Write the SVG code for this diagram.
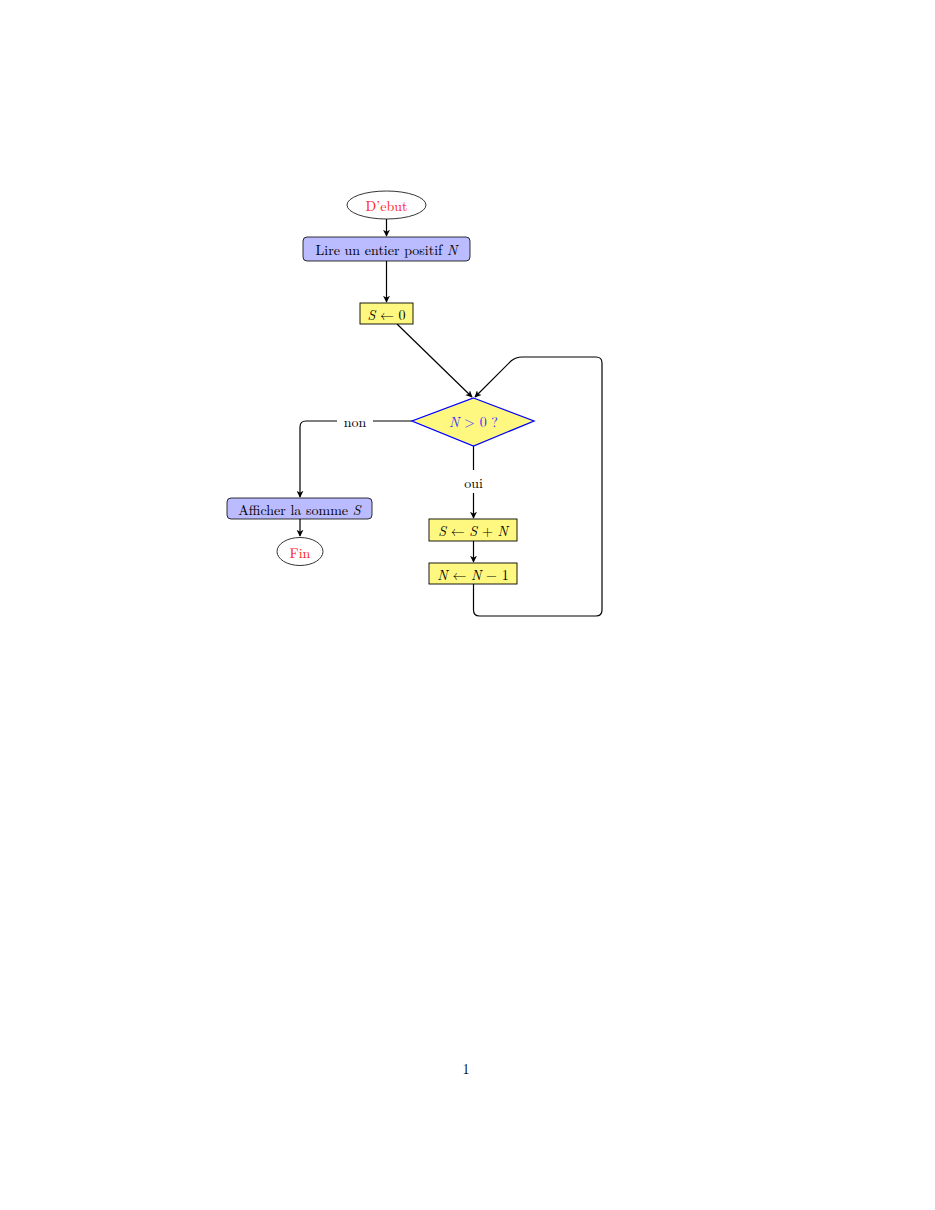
<svg xmlns="http://www.w3.org/2000/svg" width="935" height="1210" viewBox="0 0 935 1210">
<style>
text{font-family:"Latin Modern Roman","Liberation Serif",serif;font-size:14px;text-anchor:middle;dominant-baseline:central}
.m{font-style:italic}
.e{fill:#fff;stroke:#000;stroke-width:0.8}
.b{fill:#bbbbff;stroke:#000;stroke-width:0.8}
.y{fill:#fff880;stroke:#000;stroke-width:0.9}
.c{fill:none;stroke:#000;stroke-width:1.2}
.red{fill:#ff2020}
</style>
<defs><marker id="a" viewBox="0 0 10 10" refX="9" refY="5" markerWidth="7" markerHeight="7" orient="auto" markerUnits="userSpaceOnUse"><path d="M0,0 L10,5 L0,10 L3,5 z" fill="#000"/></marker></defs>
<rect width="935" height="1210" fill="#fff"/>
<g id="edges">
<path class="c" d="M386.5,219 V236" marker-end="url(#a)"/>
<path class="c" d="M386.5,261 V302" marker-end="url(#a)"/>
<path class="c" d="M397,324 L472,397" marker-end="url(#a)"/>
<path class="c" d="M412,421 H373 M337,421 H306 Q300,421 300,427 V497" marker-end="url(#a)"/>
<path class="c" d="M300,519 V536" marker-end="url(#a)"/>
<path class="c" d="M473.5,446 V470 M473.5,493 V518" marker-end="url(#a)"/>
<path class="c" d="M473.5,541 V562" marker-end="url(#a)"/>
<path class="c" d="M473.5,584 V610 Q473.5,616 479.5,616 H596 Q602,616 602,610 V363 Q602,357 596,357 H522 Q516,357 511,361 L475,397" marker-end="url(#a)"/>
<text x="355" y="421">non</text>
<text x="473.5" y="482">oui</text>
</g>
<g id="debut"><ellipse class="e" cx="386.5" cy="205" rx="39.5" ry="14"/><text class="red" x="386.5" y="205">D’ebut</text></g>
<g id="lire"><rect class="b" x="303" y="237" width="167" height="24" rx="4"/><text x="386.5" y="249">Lire un entier positif <tspan class="m">N</tspan></text></g>
<g id="s0"><rect class="y" x="360" y="303" width="53" height="21"/><text x="386.5" y="314"><tspan class="m">S</tspan> ← 0</text></g>
<g id="test"><polygon points="473.5,398 534,421 473.5,446 412,421" fill="#fff880" stroke="#0000ff" stroke-width="1.3"/><text x="473.5" y="421" fill="#3030ff"><tspan class="m">N</tspan> &gt; 0  ?</text></g>
<g id="afficher"><rect class="b" x="227" y="498" width="145" height="21" rx="4"/><text x="299.5" y="509">Afficher la somme <tspan class="m">S</tspan></text></g>
<g id="fin"><ellipse class="e" cx="300" cy="551.5" rx="23" ry="14"/><text class="red" x="300" y="552">Fin</text></g>
<g id="ssn"><rect class="y" x="429" y="519" width="88" height="22"/><text x="473" y="530"><tspan class="m">S</tspan> ← <tspan class="m">S</tspan> + <tspan class="m">N</tspan></text></g>
<g id="nn1"><rect class="y" x="429" y="563" width="88" height="21"/><text x="473" y="574"><tspan class="m">N</tspan> ← <tspan class="m">N</tspan> − 1</text></g>
<text x="466" y="1068">1</text>
</svg>
